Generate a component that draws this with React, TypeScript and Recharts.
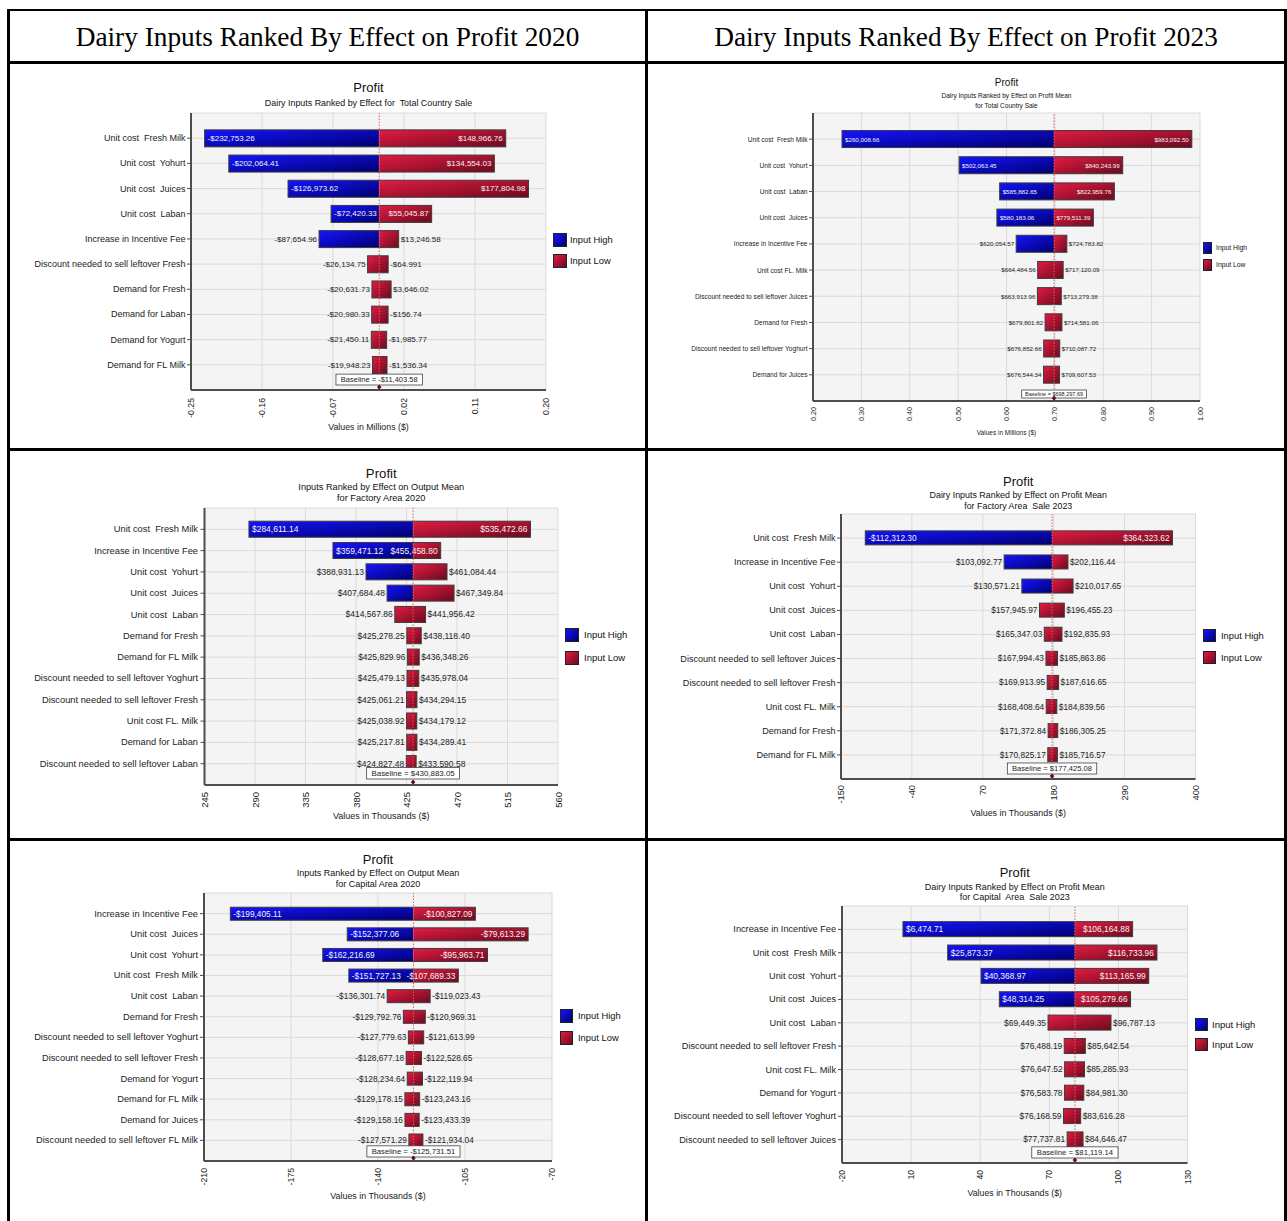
import React from 'react';
import { BarChart, Bar, XAxis, YAxis, CartesianGrid, ReferenceLine } from 'recharts';

// Total Country 2020 (values in $)
const tc20Inputs = ['Unit cost  Fresh Milk', 'Unit cost  Yohurt', 'Unit cost  Juices', 'Unit cost  Laban', 'Increase in Incentive Fee', 'Discount needed to sell leftover Fresh', 'Demand for Fresh', 'Demand for Laban', 'Demand for Yogurt', 'Demand for FL Milk'];
const tc20Left = [-232753.26, -202064.41, -126973.62, -72420.33, -87654.96, -26134.75, -20631.73, -20980.33, -21450.11, -19948.23];
const tc20Right = [148966.76, 134554.03, 177804.98, 55045.87, 13246.58, -64.991, 3646.02, -156.74, -1985.77, -1536.34];
const tc20Base = -11403.58;
const tc20HighLeft = 5;
const tc20Ticks = [-0.25, -0.16, -0.07, 0.02, 0.11, 0.2];

// Total Country 2023
const tc23Inputs = ['Unit cost  Fresh Milk', 'Unit cost  Yohurt', 'Unit cost  Laban', 'Unit cost  Juices', 'Increase in Incentive Fee', 'Unit cost FL. Milk', 'Discount needed to sell leftover Juices', 'Demand for Fresh', 'Discount needed to sell leftover Yoghurt', 'Demand for Juices'];
const tc23Left = [260008.66, 502063.45, 585882.65, 580183.06, 620054.57, 664484.56, 663913.96, 679801.82, 676852.66, 676544.34];
const tc23Right = [983092.5, 840243.99, 822959.76, 779511.39, 724783.82, 717120.09, 713279.38, 714581.06, 710087.72, 709607.53];
const tc23Base = 698297.69;
const tc23HighLeft = 5;
const tc23Ticks = [0.2, 0.3, 0.4, 0.5, 0.6, 0.7, 0.8, 0.9, 1.0];

// Factory Area 2020
const fa20Inputs = ['Unit cost  Fresh Milk', 'Increase in Incentive Fee', 'Unit cost  Yohurt', 'Unit cost  Juices', 'Unit cost  Laban', 'Demand for Fresh', 'Demand for FL Milk', 'Discount needed to sell leftover Yoghurt', 'Discount needed to sell leftover Fresh', 'Unit cost FL. Milk', 'Demand for Laban', 'Discount needed to sell leftover Laban'];
const fa20Left = [284611.14, 359471.12, 388931.13, 407684.48, 414567.86, 425278.25, 425829.96, 425479.13, 425061.21, 425038.92, 425217.81, 424827.48];
const fa20Right = [535472.66, 455458.8, 461084.44, 467349.84, 441956.42, 438118.4, 436348.26, 435978.04, 434294.15, 434179.12, 434289.41, 433590.58];
const fa20Base = 430883.05;
const fa20HighLeft = 4;
const fa20Ticks = [245, 290, 335, 380, 425, 470, 515, 560];

// Factory Area 2023
const fa23Inputs = ['Unit cost  Fresh Milk', 'Increase in Incentive Fee', 'Unit cost  Yohurt', 'Unit cost  Juices', 'Unit cost  Laban', 'Discount needed to sell leftover Juices', 'Discount needed to sell leftover Fresh', 'Unit cost FL. Milk', 'Demand for Fresh', 'Demand for FL Milk'];
const fa23Left = [-112312.3, 103092.77, 130571.21, 157945.97, 165347.03, 167994.43, 169913.95, 168408.64, 171372.84, 170825.17];
const fa23Right = [364323.62, 202116.44, 210017.65, 196455.23, 192835.93, 185863.86, 187616.65, 184839.56, 186305.25, 185716.57];
const fa23Base = 177425.08;
const fa23HighLeft = 3;
const fa23Ticks = [-150, -40, 70, 180, 290, 400];

// Capital Area 2020
const ca20Inputs = ['Increase in Incentive Fee', 'Unit cost  Juices', 'Unit cost  Yohurt', 'Unit cost  Fresh Milk', 'Unit cost  Laban', 'Demand for Fresh', 'Discount needed to sell leftover Yoghurt', 'Discount needed to sell leftover Fresh', 'Demand for Yogurt', 'Demand for FL Milk', 'Demand for Juices', 'Discount needed to sell leftover FL Milk'];
const ca20Left = [-199405.11, -152377.06, -162216.69, -151727.13, -136301.74, -129792.76, -127779.63, -128677.18, -128234.64, -129178.15, -129158.16, -127571.29];
const ca20Right = [-100827.09, -79613.29, -95963.71, -107689.33, -119023.43, -120969.31, -121613.99, -122528.65, -122119.94, -123243.16, -123433.39, -121934.04];
const ca20Base = -125731.51;
const ca20HighLeft = 4;
const ca20Ticks = [-210, -175, -140, -105, -70];

// Capital Area 2023
const ca23Inputs = ['Increase in Incentive Fee', 'Unit cost  Fresh Milk', 'Unit cost  Yohurt', 'Unit cost  Juices', 'Unit cost  Laban', 'Discount needed to sell leftover Fresh', 'Unit cost FL. Milk', 'Demand for Yogurt', 'Discount needed to sell leftover Yoghurt', 'Discount needed to sell leftover Juices'];
const ca23Left = [6474.71, 25873.37, 40368.97, 48314.25, 69449.35, 76488.19, 76647.52, 76583.78, 76168.59, 77737.81];
const ca23Right = [106164.88, 116733.96, 113165.99, 105279.66, 96787.13, 85642.54, 85285.93, 84981.3, 83616.28, 84646.47];
const ca23Base = 81119.14;
const ca23HighLeft = 4;
const ca23Ticks = [-20, 10, 40, 70, 100, 130];

const SANS = "'Liberation Sans', Arial, sans-serif";
const SERIF = "'Liberation Serif', 'Times New Roman', serif";

const money = (v: number) =>
    (v < 0 ? '-' : '') + '$' + Math.abs(v).toLocaleString('en-US', { minimumFractionDigits: 2, maximumFractionDigits: 3 });

// rough Arial advance widths, used to decide whether bar labels fit inside
const charW = (c: string) => {
    if (/[0-9$]/.test(c)) return 0.556;
    if (c === ',' || c === '.' || c === ' ') return 0.278;
    if (c === '-') return 0.333;
    if (c === '=') return 0.584;
    if (c === 'i' || c === 'l') return 0.222;
    if (/[A-Z]/.test(c)) return 0.667;
    return 0.53;
};
const textW = (s: string, fs: number) => s.split('').reduce((a, c) => a + charW(c), 0) * fs;

interface Fonts { title: number; sub: number; cat: number; val: number; tick: number; axis: number; base: number; legend: number; }
interface Panel {
    id: string;
    inputs: string[]; left: number[]; right: number[]; base: number; highLeft: number; ticks: number[];
    unit: number; decimals: number; axisTitle: string; sub: string[];
    cellLeft: number; plot: { l: number; r: number; t: number; b: number };
    titleY: number; subY: number[]; axisTitleY: number;
    fs: Fonts; tickGap: number; catGap: number; tagGap: number; barGap: string;
    legend: { x: number; y1: number; y2: number; w: number; h: number; tx: number };
}

const panels: Panel[] = [
    {
        id: 'tc20', inputs: tc20Inputs, left: tc20Left, right: tc20Right, base: tc20Base, highLeft: tc20HighLeft, ticks: tc20Ticks,
        unit: 1e6, decimals: 2, axisTitle: 'Values in Millions ($)', sub: ['Dairy Inputs Ranked by Effect for  Total Country Sale'],
        cellLeft: 11, plot: { l: 191, r: 546, t: 113, b: 390 }, titleY: 87, subY: [103], axisTitleY: 427,
        fs: { title: 13, sub: 8.9, cat: 9, val: 8, tick: 8.7, axis: 8.8, base: 7.5, legend: 9.4 },
        tickGap: 8, catGap: 1.5, tagGap: 5, barGap: '17%',
        legend: { x: 553, y1: 233, y2: 254, w: 14, h: 14, tx: 570 },
    },
    {
        id: 'tc23', inputs: tc23Inputs, left: tc23Left, right: tc23Right, base: tc23Base, highLeft: tc23HighLeft, ticks: tc23Ticks,
        unit: 1e6, decimals: 2, axisTitle: 'Values in Millions ($)', sub: ['Dairy Inputs Ranked by Effect on Profit Mean', 'for Total Country Sale'],
        cellLeft: 648, plot: { l: 813, r: 1200, t: 113, b: 401 }, titleY: 83, subY: [96, 106], axisTitleY: 432,
        fs: { title: 10, sub: 6.5, cat: 6.6, val: 6.2, tick: 7.2, axis: 6.5, base: 5.5, legend: 6.8 },
        tickGap: 6, catGap: 1.5, tagGap: 3, barGap: '17%',
        legend: { x: 1203, y1: 242, y2: 259, w: 9, h: 12, tx: 1216 },
    },
    {
        id: 'fa20', inputs: fa20Inputs, left: fa20Left, right: fa20Right, base: fa20Base, highLeft: fa20HighLeft, ticks: fa20Ticks,
        unit: 1e3, decimals: 0, axisTitle: 'Values in Thousands ($)', sub: ['Inputs Ranked by Effect on Output Mean', 'for Factory Area 2020'],
        cellLeft: 11, plot: { l: 204.5, r: 558, t: 508, b: 785 }, titleY: 474, subY: [488, 499], axisTitleY: 816,
        fs: { title: 13.2, sub: 9.2, cat: 9.3, val: 8.5, tick: 9.5, axis: 9, base: 7.9, legend: 9.5 },
        tickGap: 7, catGap: 2.5, tagGap: 6, barGap: '12%',
        legend: { x: 565, y1: 628, y2: 651, w: 14, h: 14, tx: 584 },
    },
    {
        id: 'fa23', inputs: fa23Inputs, left: fa23Left, right: fa23Right, base: fa23Base, highLeft: fa23HighLeft, ticks: fa23Ticks,
        unit: 1e3, decimals: 0, axisTitle: 'Values in Thousands ($)', sub: ['Dairy Inputs Ranked by Effect on Profit Mean', 'for Factory Area  Sale 2023'],
        cellLeft: 648, plot: { l: 841, r: 1195.5, t: 514, b: 779 }, titleY: 481, subY: [495, 506], axisTitleY: 813,
        fs: { title: 13, sub: 8.9, cat: 9.1, val: 8.3, tick: 9.3, axis: 8.9, base: 7.6, legend: 9.4 },
        tickGap: 6, catGap: 1.5, tagGap: 5, barGap: '20%',
        legend: { x: 1203, y1: 629, y2: 651, w: 13, h: 13, tx: 1221 },
    },
    {
        id: 'ca20', inputs: ca20Inputs, left: ca20Left, right: ca20Right, base: ca20Base, highLeft: ca20HighLeft, ticks: ca20Ticks,
        unit: 1e3, decimals: 0, axisTitle: 'Values in Thousands ($)', sub: ['Inputs Ranked by Effect on Output Mean', 'for Capital Area 2020'],
        cellLeft: 11, plot: { l: 204, r: 552, t: 893, b: 1161 }, titleY: 859, subY: [873, 884], axisTitleY: 1196,
        fs: { title: 13, sub: 9, cat: 9.3, val: 8.3, tick: 8.7, axis: 8.9, base: 7.7, legend: 9.4 },
        tickGap: 7, catGap: 2, tagGap: 4, barGap: '19%',
        legend: { x: 560, y1: 1009, y2: 1031, w: 13, h: 14, tx: 578 },
    },
    {
        id: 'ca23', inputs: ca23Inputs, left: ca23Left, right: ca23Right, base: ca23Base, highLeft: ca23HighLeft, ticks: ca23Ticks,
        unit: 1e3, decimals: 0, axisTitle: 'Values in Thousands ($)', sub: ['Dairy Inputs Ranked by Effect on Profit Mean', 'for Capital  Area  Sale 2023'],
        cellLeft: 648, plot: { l: 842, r: 1187.5, t: 906, b: 1163 }, titleY: 873, subY: [887, 897], axisTitleY: 1193,
        fs: { title: 12.9, sub: 9, cat: 9.2, val: 8.4, tick: 8.5, axis: 8.8, base: 7.7, legend: 9.5 },
        tickGap: 7, catGap: 2, tagGap: 5, barGap: '17%',
        legend: { x: 1195, y1: 1018, y2: 1038, w: 13, h: 13, tx: 1212 },
    },
];

const TornadoBar = (props: any) => {
    const { x, y, width, height, payload, p } = props;
    if (!payload || width == null) return null;
    const fs = p.fs.val;
    const bx = x + (width * (p.base - payload.lo)) / (payload.hi - payload.lo);
    const lt = money(payload.lo);
    const rt = money(payload.hi);
    const inside = width >= textW(lt, fs) + textW(rt, fs) + 6;
    const cy = y + height / 2;
    const col = inside ? '#f3f3f3' : '#1e1e1e';
    return (
        <g>
            {payload.highLeft ? (
                <>
                    <rect x={x} y={y} width={bx - x} height={height} fill={`url(#${p.id}-blue)`} />
                    <rect x={bx} y={y} width={x + width - bx} height={height} fill={`url(#${p.id}-red)`} />
                </>
            ) : (
                <rect x={x} y={y} width={width} height={height} fill={`url(#${p.id}-red)`} />
            )}
            <rect x={x} y={y} width={width} height={height} fill="none" stroke="#3c3c3c" strokeWidth={1} />
            <text x={inside ? x + 3 : x - 2} y={cy} textAnchor={inside ? 'start' : 'end'} dominantBaseline="central" fontSize={fs} fill={col}>{lt}</text>
            <text x={inside ? x + width - 3 : x + width + 2} y={cy} textAnchor={inside ? 'end' : 'start'} dominantBaseline="central" fontSize={fs} fill={col}>{rt}</text>
        </g>
    );
};

const BaselineTag = (props: any) => {
    const { viewBox, p } = props;
    if (!viewBox) return null;
    const { x, y, height } = viewBox;
    const bottom = y + height;
    const txt = `Baseline = ${money(p.base)}`;
    const fs = p.fs.base;
    const w = textW(txt, fs) + fs * 1.3;
    const h = fs * 1.45;
    const bb = bottom - p.tagGap;
    return (
        <g>
            <rect x={x - w / 2} y={bb - h} width={w} height={h} fill="#ffffff" stroke="#444" strokeWidth={0.8} />
            <text x={x} y={bb - h / 2} textAnchor="middle" dominantBaseline="central" fontSize={fs} fill="#222">{txt}</text>
            <path d={`M${x - 2.2},${bottom - 3} L${x},${bottom} L${x + 2.2},${bottom - 3} L${x},${bottom - 5.5} Z`} fill="#5a1020" />
        </g>
    );
};

const AxisTitle = (props: any) => {
    const { viewBox, text, dy, fs } = props;
    if (!viewBox) return null;
    return (
        <text x={viewBox.x + viewBox.width / 2} y={viewBox.y + dy} textAnchor="middle" dominantBaseline="central" fontSize={fs} fill="#222">{text}</text>
    );
};

const Tornado: React.FC<{ p: Panel }> = ({ p }) => {
    const rows = p.inputs.map((name, i) => ({
        name,
        range: [p.left[i] / p.unit, p.right[i] / p.unit],
        lo: p.left[i],
        hi: p.right[i],
        highLeft: i < p.highLeft,
    }));
    const plotH = p.plot.b - p.plot.t;
    const band = plotH / (rows.length + 1);
    const svgTop = p.plot.t - 8;
    const svgH = p.axisTitleY + 10 - svgTop;
    const xAxisH = svgH - 8 - plotH;
    const yAxisW = p.plot.l - p.cellLeft;
    const svgW = p.plot.r + 6 - p.cellLeft;
    const cx = (p.plot.l + p.plot.r) / 2;
    const lg = p.legend;

    const centered = (top: number, fs: number): React.CSSProperties => ({
        position: 'absolute', left: cx - 250, width: 500, top: top - fs / 2, fontSize: fs, lineHeight: 1,
        textAlign: 'center', whiteSpace: 'pre', color: '#111',
    });

    return (
        <>
            <div style={centered(p.titleY, p.fs.title)}>Profit</div>
            {p.sub.map((s, i) => (
                <div key={i} style={centered(p.subY[i], p.fs.sub)}>{s}</div>
            ))}
            <div style={{ position: 'absolute', left: p.cellLeft, top: svgTop }}>
                <BarChart width={svgW} height={svgH} data={rows} layout="vertical" margin={{ top: 8, right: 6, bottom: 0, left: 0 }} barCategoryGap={p.barGap}>
                    <defs>
                        <linearGradient id={`${p.id}-blue`} x1="0" y1="0" x2="1" y2="1">
                            <stop offset="0%" stopColor="#1414ff" />
                            <stop offset="100%" stopColor="#00006e" />
                        </linearGradient>
                        <linearGradient id={`${p.id}-red`} x1="0" y1="0" x2="1" y2="1">
                            <stop offset="0%" stopColor="#e31b42" />
                            <stop offset="100%" stopColor="#6c0a1e" />
                        </linearGradient>
                    </defs>
                    <CartesianGrid fill="#f4f4f4" stroke="#dadada" />
                    <XAxis
                        type="number"
                        domain={[p.ticks[0], p.ticks[p.ticks.length - 1]]}
                        ticks={p.ticks}
                        interval={0}
                        allowDataOverflow
                        height={xAxisH}
                        tickSize={0}
                        tickMargin={p.tickGap}
                        tickLine={false}
                        axisLine={{ stroke: '#4d4d4d', strokeWidth: 2 }}
                        tick={(t: any) => (
                            <text transform={`translate(${t.x},${t.y}) rotate(-90)`} textAnchor="end" dominantBaseline="central" fontSize={p.fs.tick} fill="#222">
                                {Number(t.payload.value).toFixed(p.decimals)}
                            </text>
                        )}
                        label={<AxisTitle text={p.axisTitle} dy={p.axisTitleY - p.plot.b} fs={p.fs.axis} />}
                    />
                    <YAxis
                        type="category"
                        dataKey="name"
                        width={yAxisW}
                        interval={0}
                        tickSize={4}
                        tickMargin={p.catGap}
                        axisLine={{ stroke: '#4d4d4d', strokeWidth: 2 }}
                        tickLine={{ stroke: '#4d4d4d' }}
                        padding={{ top: band / 2, bottom: band / 2 }}
                        tick={(t: any) => (
                            <text x={t.x} y={t.y} textAnchor="end" dominantBaseline="central" fontSize={p.fs.cat} fill="#222" style={{ whiteSpace: 'pre' }}>
                                {t.payload.value}
                            </text>
                        )}
                    />
                    <Bar dataKey="range" isAnimationActive={false} shape={(s: any) => <TornadoBar {...s} p={p} />} />
                    <ReferenceLine x={p.base / p.unit} stroke="#e35b5b" strokeDasharray="1.5 1.5" label={<BaselineTag p={p} />} />
                </BarChart>
            </div>
            <div style={{ position: 'absolute', left: lg.x, top: lg.y1, width: lg.w, height: lg.h, boxSizing: 'border-box', border: '1px solid #222', background: 'linear-gradient(135deg, #1414ff, #00006e)' }} />
            <div style={{ position: 'absolute', left: lg.tx, top: lg.y1 + lg.h / 2 - p.fs.legend / 2, fontSize: p.fs.legend, lineHeight: 1, whiteSpace: 'pre', color: '#111' }}>Input High</div>
            <div style={{ position: 'absolute', left: lg.x, top: lg.y2, width: lg.w, height: lg.h, boxSizing: 'border-box', border: '1px solid #222', background: 'linear-gradient(135deg, #e31b42, #6c0a1e)' }} />
            <div style={{ position: 'absolute', left: lg.tx, top: lg.y2 + lg.h / 2 - p.fs.legend / 2, fontSize: p.fs.legend, lineHeight: 1, whiteSpace: 'pre', color: '#111' }}>Input Low</div>
        </>
    );
};

const rules = [
    { l: 7, t: 9, w: 1280, h: 2 },
    { l: 7, t: 61, w: 1280, h: 3 },
    { l: 7, t: 448, w: 1280, h: 3 },
    { l: 7, t: 838, w: 1280, h: 3 },
    { l: 7, t: 9, w: 3, h: 1212 },
    { l: 645, t: 9, w: 3, h: 1212 },
    { l: 1284, t: 9, w: 3, h: 1212 },
];

const headers = [
    { l: 10, w: 635, text: 'Dairy Inputs Ranked By Effect on Profit 2020' },
    { l: 648, w: 636, text: 'Dairy Inputs Ranked By Effect on Profit 2023' },
];

export default function App() {
    return (
        <div style={{ position: 'absolute', left: 0, top: 0, width: 1287, height: 1221, background: '#fff', overflow: 'hidden', fontFamily: SANS }}>
            {headers.map(h => (
                <div key={h.text} style={{ position: 'absolute', left: h.l, width: h.w, top: 12, height: 50, display: 'flex', alignItems: 'center', justifyContent: 'center', fontFamily: SERIF, fontSize: 27.3, color: '#000' }}>
                    {h.text}
                </div>
            ))}
            {panels.map(p => (
                <Tornado key={p.id} p={p} />
            ))}
            {rules.map((r, i) => (
                <div key={i} style={{ position: 'absolute', left: r.l, top: r.t, width: r.w, height: r.h, background: '#000' }} />
            ))}
        </div>
    );
}
